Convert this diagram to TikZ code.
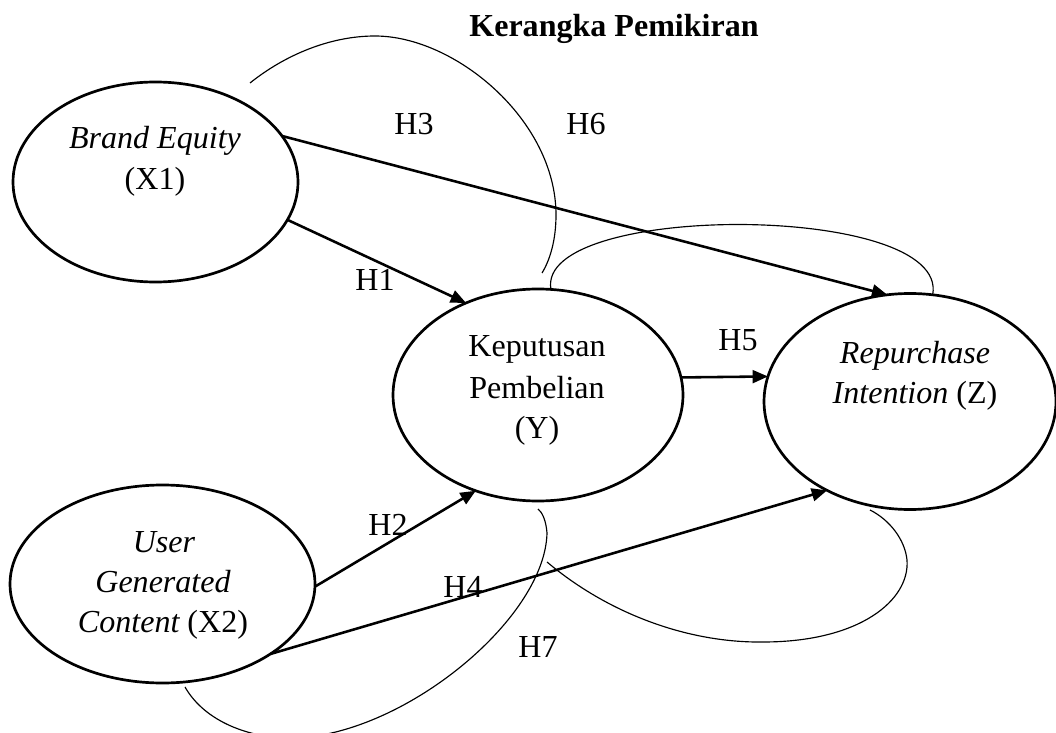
\documentclass[tikz,border=0pt]{standalone}
\usepackage{fontspec}
\setmainfont{Liberation Serif}
\usetikzlibrary{arrows.meta,shapes.geometric}
\begin{document}
\begin{tikzpicture}[x=0.39pt,y=-0.39pt,
  font=\fontsize{12.5}{14}\selectfont,
  var/.style={ellipse, draw, line width=1.05pt, inner sep=0pt, outer sep=0pt},
  conn/.style={line width=1pt, -{Triangle[length=6pt,width=5pt]}},
  thinline/.style={line width=0.45pt},
  lbl/.style={anchor=base, inner sep=0pt}]
\useasboundingbox (0,0) rectangle (1056,733);

% title
\node[lbl, font=\fontsize{12.5}{14}\selectfont\bfseries] (title) at (614,37) {Kerangka Pemikiran};

% ellipses
\node[var, minimum width=111.15pt, minimum height=78pt] (X1) at (155.5,182) {};
\node[var, minimum width=113.1pt, minimum height=82.68pt] (Y) at (538,395) {};
\node[var, minimum width=113.88pt, minimum height=84.24pt] (Z) at (910,401.5) {};
\node[var, minimum width=118.95pt, minimum height=77.22pt] (X2) at (162.5,584) {};

% texts
\node[lbl] (x1a) at (155,149) {\itshape Brand Equity};
\node[lbl] (x1b) at (155,190) {(X1)};
\node[lbl] (ya) at (537,357) {Keputusan};
\node[lbl] (yb) at (537,398) {Pembelian};
\node[lbl] (yc) at (537,438) {(Y)};
\node[lbl] (za) at (915,363) {\itshape Repurchase};
\node[lbl] (zb) at (915,403) {\itshape Intention \upshape(Z)};
\node[lbl] (x2a) at (164,552) {\itshape User};
\node[lbl] (x2b) at (163,592) {\itshape Generated};
\node[lbl] (x2c) at (163,632) {\itshape Content \upshape(X2)};

% hypothesis labels
\node[lbl] (h1) at (375,291) {H1};
\node[lbl] (h2) at (388,535) {H2};
\node[lbl] (h3) at (414,135) {H3};
\node[lbl] (h4) at (463,597) {H4};
\node[lbl] (h5) at (738,350) {H5};
\node[lbl] (h6) at (586,135) {H6};
\node[lbl] (h7) at (538,657) {H7};

% arrows
\draw[conn] (X1.20.6) -- (Z.102.4);
\draw[conn] (X1.-16.9) -- (Y.128.9);
\draw[conn] (Y.7.1) -- (Z.170.3);
\draw[conn] (X2.-1.2) -- (Y.-123.7);
\draw[conn] (X2.-33.1) -- (Z.-133.1);

% thin curves
\coordinate (a1s) at (250,83);
\coordinate (a1e) at (542,273);
\draw[thinline] (a1s) .. controls (285,55) and (330,36) .. (375,36)
  .. controls (455,36) and (556,120) .. (556,215)
  .. controls (556,240) and (550,260) .. (a1e);

\draw[thinline] (Y.83.5) .. controls (535,202) and (950,202) .. (Z.78.1);

\coordinate (a3s) at (185,687);
\coordinate (a3e) at (538,509);
\draw[thinline] (a3s) .. controls (205,722) and (250,738) .. (290,738)
  .. controls (400,738) and (545,620) .. (547,533)
  .. controls (546,520) and (542,512) .. (a3e);

\coordinate (a4s) at (547,562);
\coordinate (a4e) at (870,510);
\draw[thinline] (a4s) .. controls (610,615) and (690,643) .. (763,642)
  .. controls (860,642) and (910,600) .. (907,560)
  .. controls (905,540) and (890,520) .. (a4e);
\end{tikzpicture}
\end{document}
